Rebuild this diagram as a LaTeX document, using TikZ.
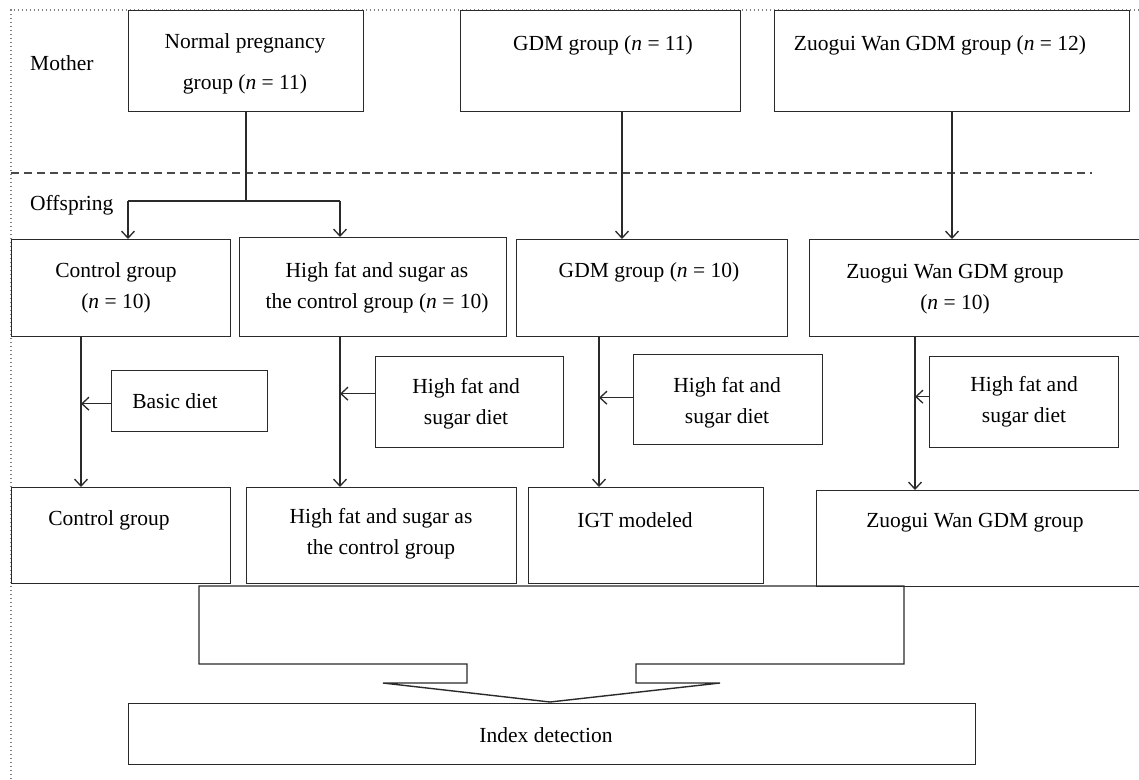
\documentclass[tikz,border=0pt]{standalone}
\usepackage{fontspec}
\setmainfont{Liberation Serif}
\usetikzlibrary{arrows.meta}
\definecolor{ink}{HTML}{2A2A2A}
\tikzset{
  box/.style={draw=ink, line width=1.4pt, fill=white, anchor=north west, inner sep=0pt},
  txt/.style={align=center, inner sep=0pt, font=\fontsize{21.5}{31}\selectfont},
  ln/.style={draw=ink, line width=1.4pt},
  arr/.style={draw=ink, line width=1.4pt, -{Straight Barb[length=7pt,width=13pt,line width=1.3pt]}},
}
\newcommand\mybox[5]{\node[box,minimum width={#4pt-#2pt},minimum height={#5pt-#3pt}] (#1) at (#2,#3) {};}
\begin{document}
\begin{tikzpicture}[x=1pt,y=-1pt]
\useasboundingbox (0,0) rectangle (1139,779);
% frame lines
\draw[gray, line width=1.3pt, dash pattern=on 1.3pt off 2.7pt] (11,779) -- (11,10) -- (1139,10);
\draw[ink!85, line width=1.3pt, dash pattern=on 8pt off 5pt] (11,173) -- (1092,173);
\node[txt, anchor=west] (mother) at (30,63) {Mother};
\node[txt, anchor=west] (offspring) at (30,205) {Offspring};
% mother boxes
\mybox{normal}{128}{10}{363}{111}
\mybox{gdmA}{460}{10}{740}{111}
\mybox{zwA}{774}{10}{1129}{111}
% offspring boxes
\mybox{ctrlB}{11}{239}{230}{336}
\mybox{hfsB}{239}{237}{506}{336}
\mybox{gdmB}{516}{239}{787}{336}
\mybox{zwB}{809}{239}{1150}{336}
% diet boxes
\mybox{basic}{111}{370}{267}{431}
\mybox{dietA}{375}{356}{563}{447}
\mybox{dietB}{633}{354}{822}{444}
\mybox{dietC}{929}{356}{1118}{447}
% result boxes
\mybox{ctrlC}{11}{487}{230}{583}
\mybox{hfsC}{246}{487}{516}{583}
\mybox{igt}{528}{487}{763}{583}
\mybox{zwC}{816}{490}{1150}{586}
\mybox{index}{128}{703}{975}{764}
% texts
\node[txt] (tnormal) at (245,64) {Normal pregnancy\\[10pt]group (\textit{n} = 11)};
\node[txt] (tgdmA) at (603,45) {GDM group (\textit{n} = 11)};
\node[txt] (tzwA) at (940,45) {Zuogui Wan GDM group (\textit{n} = 12)};
\node[txt] (tctrlB) at (116,288) {Control group\\(\textit{n} = 10)};
\node[txt] (thfsB) at (377,288) {High fat and sugar as\\the control group (\textit{n} = 10)};
\node[txt] (tgdmB) at (649,272) {GDM group (\textit{n} = 10)};
\node[txt] (tzwB) at (955,289) {Zuogui Wan GDM group\\(\textit{n} = 10)};
\node[txt] (tbasic) at (175,401) {Basic diet};
\node[txt] (tdietA) at (466,404) {High fat and\\sugar diet};
\node[txt] (tdietB) at (727,403) {High fat and\\sugar diet};
\node[txt] (tdietC) at (1024,402) {High fat and\\sugar diet};
\node[txt] (tctrlC) at (109,520) {Control group};
\node[txt] (thfsC) at (381,534) {High fat and sugar as\\the control group};
\node[txt] (tigt) at (635,520) {IGT modeled};
\node[txt] (tzwC) at (975,523) {Zuogui Wan GDM group};
\node[txt] (tindex) at (546,735) {Index detection};
% connector helper coordinates
\coordinate (split) at (246,201);
\coordinate (sl) at (128,201);
\coordinate (sr) at (340,201);
\coordinate (ga) at (622,0);
\coordinate (za) at (952,0);
\coordinate (v1) at (81,0);
\coordinate (v2) at (340,0);
\coordinate (v3) at (599,0);
\coordinate (v4) at (915,0);
% mother to offspring
\draw[ln] (normal.south -| split) -- (split);
\draw[ln] (sl) -- (sr);
\draw[arr] (sl) -- (sl |- ctrlB.north);
\draw[arr] (sr) -- (sr |- hfsB.north);
\draw[arr] (gdmA.south -| ga) -- (gdmB.north -| ga);
\draw[arr] (zwA.south -| za) -- (zwB.north -| za);
% offspring to results
\draw[arr] (ctrlB.south -| v1) -- (ctrlC.north -| v1);
\draw[arr] (hfsB.south -| v2) -- (hfsC.north -| v2);
\draw[arr] (gdmB.south -| v3) -- (igt.north -| v3);
\draw[arr] (zwB.south -| v4) -- (zwC.north -| v4);
% diets
\draw[arr] ([yshift=-2.5pt]basic.west) -- ([yshift=-2.5pt]basic.west -| v1);
\draw[arr] ([yshift=8.5pt]dietA.west) -- ([yshift=8.5pt]dietA.west -| v2);
\draw[arr] ([yshift=2pt]dietB.west) -- ([yshift=2pt]dietB.west -| v3);
\draw[arr] ([yshift=5.5pt]dietC.west) -- ([yshift=5.5pt]dietC.west -| v4);
% merging block arrow
\draw[ln, line join=miter] (199,586) -- (904,586) -- (904,664) -- (636,664) -- (636,683) -- (720,683)
  -- (550,702) -- (383,683) -- (467,683) -- (467,664) -- (199,664) -- cycle;
\end{tikzpicture}
\end{document}
